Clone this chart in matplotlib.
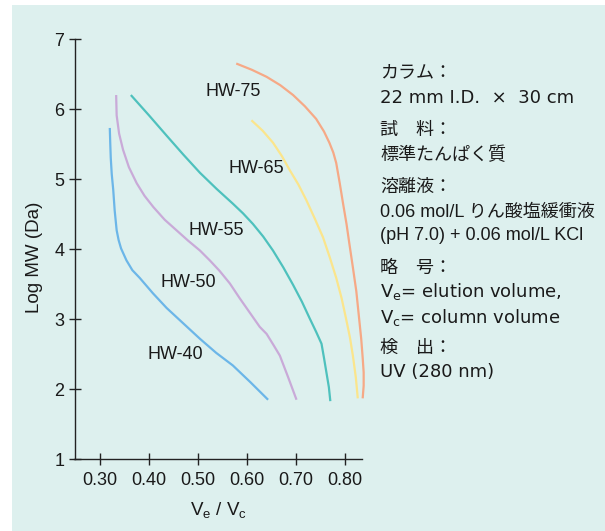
import matplotlib
matplotlib.use("Agg")
import matplotlib.pyplot as plt
from matplotlib.patches import Rectangle

plt.rcParams['font.family'] = ['Liberation Sans', 'Noto Sans CJK JP', 'DejaVu Sans']
plt.rcParams['mathtext.fontset'] = 'custom'
plt.rcParams['mathtext.rm'] = 'Liberation Sans'
plt.rcParams['mathtext.it'] = 'Liberation Sans'

# calibration curves (Ve/Vc, log MW)
hw40_x = [0.320, 0.321, 0.322, 0.324, 0.327, 0.330, 0.334, 0.338, 0.343, 0.354,
          0.366, 0.381, 0.408, 0.436, 0.470, 0.504, 0.537, 0.571, 0.607, 0.643]
hw40_y = [5.73, 5.50, 5.30, 5.07, 4.85, 4.55, 4.27, 4.13, 4.01, 3.84,
          3.70, 3.59, 3.37, 3.16, 2.94, 2.72, 2.52, 2.34, 2.10, 1.85]

hw50_x = [0.333, 0.334, 0.339, 0.347, 0.359, 0.375, 0.391, 0.409, 0.432, 0.456,
          0.480, 0.504, 0.524, 0.544, 0.565, 0.585, 0.606, 0.626, 0.640, 0.655,
          0.667, 0.684, 0.701]
hw50_y = [6.20, 5.91, 5.65, 5.42, 5.17, 4.94, 4.76, 4.60, 4.42, 4.27,
          4.12, 3.98, 3.84, 3.69, 3.51, 3.30, 3.09, 2.89, 2.79, 2.62,
          2.48, 2.17, 1.85]

hw55_x = [0.363, 0.400, 0.436, 0.470, 0.504, 0.538, 0.571, 0.592, 0.612, 0.633,
          0.653, 0.674, 0.694, 0.712, 0.728, 0.741, 0.752, 0.757, 0.762, 0.767,
          0.770]
hw55_y = [6.20, 5.91, 5.62, 5.35, 5.09, 4.86, 4.65, 4.51, 4.36, 4.18,
          3.98, 3.74, 3.49, 3.25, 3.01, 2.82, 2.65, 2.45, 2.24, 2.03,
          1.83]

hw65_x = [0.609, 0.632, 0.653, 0.671, 0.687, 0.705, 0.721, 0.738, 0.755, 0.769,
          0.782, 0.793, 0.802, 0.810, 0.816, 0.822, 0.826]
hw65_y = [5.84, 5.69, 5.52, 5.33, 5.13, 4.92, 4.70, 4.44, 4.17, 3.88,
          3.59, 3.30, 3.01, 2.74, 2.48, 2.17, 1.87]

hw75_x = [0.578, 0.610, 0.640, 0.668, 0.694, 0.718, 0.741, 0.757, 0.768, 0.776,
          0.782, 0.789, 0.796, 0.803, 0.809, 0.816, 0.823, 0.828, 0.833, 0.836,
          0.838, 0.838, 0.836]
hw75_y = [6.65, 6.56, 6.46, 6.34, 6.20, 6.04, 5.86, 5.68, 5.52, 5.38,
          5.23, 4.95, 4.65, 4.36, 4.07, 3.74, 3.40, 3.06, 2.72, 2.45,
          2.24, 2.05, 1.87]

names = ['HW-40', 'HW-50', 'HW-55', 'HW-65', 'HW-75']
label_x = [0.453, 0.480, 0.538, 0.619, 0.571]
label_y = [2.50, 3.52, 4.27, 5.15, 6.25]
colors = ['#6cb6e8', '#c9aad8', '#4ec1bd', '#fbe58c', '#f6a986']

xticks = [0.30, 0.40, 0.50, 0.60, 0.70, 0.80]
yticks = [1, 2, 3, 4, 5, 6, 7]

notes = ['カラム：',
         '22 mm I.D.  ×  30 cm',
         '試　料：',
         '標準たんぱく質',
         '溶離液：',
         '0.06 mol/L りん酸塩緩衝液',
         '(pH 7.0) + 0.06 mol/L KCl',
         '略　号：',
         r'V$_\mathregular{e}$= elution volume,',
         r'V$_\mathregular{c}$= column volume',
         '検　出：',
         'UV (280 nm)']
notes_y = [73, 98, 130, 155, 187, 212, 235, 268, 292, 317, 348, 372]
wide = [False, True, False, False, False, False, False, False, True, True, False, True]

fig = plt.figure(figsize=(6.05, 5.31), dpi=100)
fig.patch.set_facecolor('white')
fig.add_artist(Rectangle((12 / 605, 0), 1, 1 - 5 / 531, transform=fig.transFigure,
                         facecolor='#ddf0ee', edgecolor='none', zorder=-10))

ax = fig.add_axes([74.5 / 605, 1 - 459.3 / 531, 287.2 / 605, 420.3 / 531])
ax.set_facecolor('none')

curves = [(hw40_x, hw40_y), (hw50_x, hw50_y), (hw55_x, hw55_y),
          (hw65_x, hw65_y), (hw75_x, hw75_y)]
for (cx, cy), c in zip(curves, colors):
    ax.plot(cx, cy, color=c, lw=1.6, clip_on=False, solid_capstyle='butt')
for n, lx, ly in zip(names, label_x, label_y):
    ax.text(lx, ly, n, fontsize=13, ha='center', va='center', color='#1a1a1a')

ax.set_xlim(0.248, 0.834)
ax.set_ylim(1, 7)
ax.set_xticks(xticks)
ax.set_xticklabels(['%.2f' % v for v in xticks])
ax.set_yticks(yticks)
for s in ['top', 'right']:
    ax.spines[s].set_visible(False)
for s in ['left', 'bottom']:
    ax.spines[s].set_color('#222222')
    ax.spines[s].set_linewidth(1.0)
ax.tick_params(direction='inout', length=8.5, width=1.0, color='#222222',
               labelsize=13, labelcolor='#1a1a1a')
ax.tick_params(axis='x', pad=5)
ax.tick_params(axis='y', pad=3)

ax.set_ylabel('Log MW (Da)', fontsize=13.5, color='#1a1a1a')
ax.yaxis.set_label_coords(-0.138, 0.48)
ax.yaxis.label.set_va('center')
ax.set_xlabel(r'V$_\mathregular{e}$ / V$_\mathregular{c}$', fontsize=13.5, color='#1a1a1a')
ax.xaxis.set_label_coords(0.5, -0.12)
ax.xaxis.label.set_va('center')

for t, ty, w in zip(notes, notes_y, wide):
    fam = ['DejaVu Sans', 'Noto Sans CJK JP'] if w else ['Liberation Sans', 'Noto Sans CJK JP']
    fig.text(380 / 605, 1 - ty / 531, t, fontsize=13, ha='left', va='center',
             color='#1a1a1a', family=fam)

fig.savefig('out.png', dpi=100, facecolor=fig.get_facecolor())
